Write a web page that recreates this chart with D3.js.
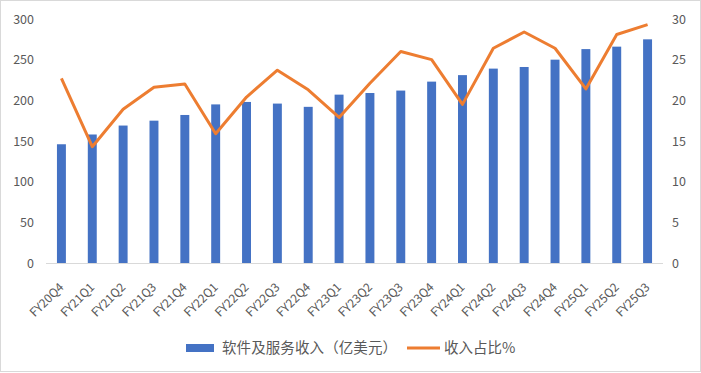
<!DOCTYPE html>
<html>
<head>
<meta charset="utf-8">
<script src="https://cdn.jsdelivr.net/npm/d3@7"></script>
<style>
  body { margin: 0; background: #fff; }
  svg text { font-family: "Noto Sans CJK SC", "Noto Sans", sans-serif; fill: #595959; }
</style>
</head>
<body>
<div id="chart"></div>
<script>
// quarters on the x axis
const quarters = ["FY20Q4", "FY21Q1", "FY21Q2", "FY21Q3", "FY21Q4", "FY22Q1", "FY22Q2", "FY22Q3",
       "FY22Q4", "FY23Q1", "FY23Q2", "FY23Q3", "FY23Q4", "FY24Q1", "FY24Q2", "FY24Q3",
       "FY24Q4", "FY25Q1", "FY25Q2", "FY25Q3"];

// 软件及服务收入（亿美元）
const revenue = [146, 158, 169, 175, 182, 195, 198, 196, 192, 207,
       209, 212, 223, 231, 239, 241, 250, 263, 266, 275];

// 收入占比%
const share = [22.7, 14.3, 18.9, 21.6, 22.0, 15.9, 20.4, 23.7, 21.3, 17.9,
       22.1, 26.0, 25.0, 19.5, 26.4, 28.4, 26.4, 21.4, 28.1, 29.3];

const leftTicks = [0, 50, 100, 150, 200, 250, 300];
const rightTicks = [0, 5, 10, 15, 20, 25, 30];

const width = 701, height = 373;
const plot = { left: 46, right: 663, top: 19, bottom: 263 };

const svg = d3.select("#chart").append("svg")
       .attr("width", width)
       .attr("height", height);

// chart border
svg.append("rect")
       .attr("x", 0.5).attr("y", 0.5)
       .attr("width", width - 1).attr("height", height - 2)
       .attr("fill", "#fff")
       .attr("stroke", "#d9d9d9");

const x = d3.scaleBand().domain(quarters).range([plot.left, plot.right]).paddingInner(0.71).paddingOuter(0.355);
const yL = d3.scaleLinear().domain([0, 300]).range([plot.bottom, plot.top]);
const yR = d3.scaleLinear().domain([0, 30]).range([plot.bottom, plot.top]);

// left axis labels
const leftAxis = svg.append("g")
       .attr("transform", `translate(${plot.left - 12},0)`)
       .call(d3.axisLeft(yL).tickValues(leftTicks).tickSize(0).tickPadding(0));
leftAxis.select(".domain").remove();
leftAxis.selectAll("text").style("font-size", "12.5px");

// right axis labels
const rightAxis = svg.append("g")
       .attr("transform", `translate(${plot.right + 9},0)`)
       .call(d3.axisRight(yR).tickValues(rightTicks).tickSize(0).tickPadding(0));
rightAxis.select(".domain").remove();
rightAxis.selectAll("text").style("font-size", "12.5px");

// bars
svg.selectAll(".bar")
       .data(revenue)
       .enter()
       .append("rect")
       .attr("class", "bar")
       .attr("x", (d, i) => x(quarters[i]))
       .attr("y", d => yL(d))
       .attr("width", x.bandwidth())
       .attr("height", d => yL(0) - yL(d))
       .attr("fill", "#4472c4");

// baseline
svg.append("line")
       .attr("x1", plot.left).attr("x2", plot.right)
       .attr("y1", yL(0) + 0.5).attr("y2", yL(0) + 0.5)
       .attr("stroke", "#d9d9d9");

// share line
const line = d3.line()
       .x((d, i) => x(quarters[i]) + x.bandwidth() / 2)
       .y(d => yR(d));

svg.append("path")
       .datum(share)
       .attr("d", line)
       .attr("fill", "none")
       .attr("stroke", "#ed7d31")
       .attr("stroke-width", 3)
       .attr("stroke-linejoin", "round");

// rotated x labels
svg.selectAll(".xlab")
       .data(quarters)
       .enter()
       .append("text")
       .attr("class", "xlab")
       .attr("transform", d => `translate(${x(d) + x.bandwidth() / 2},${plot.bottom + 22}) rotate(-45)`)
       .attr("text-anchor", "end")
       .attr("dy", "0.35em")
       .style("font-size", "12px")
       .text(d => d);

// legend
const legend = svg.append("g").attr("transform", "translate(0,348)");
legend.append("rect")
       .attr("x", 186).attr("y", -4)
       .attr("width", 28).attr("height", 8)
       .attr("fill", "#4472c4");
legend.append("text")
       .attr("x", 222).attr("dy", "0.35em")
       .attr("textLength", 175)
       .attr("lengthAdjust", "spacing")
       .style("font-size", "14.5px")
       .text("软件及服务收入（亿美元）");
legend.append("line")
       .attr("x1", 407).attr("x2", 440)
       .attr("stroke", "#ed7d31")
       .attr("stroke-width", 3);
legend.append("text")
       .attr("x", 444).attr("dy", "0.35em")
       .style("font-size", "14.5px")
       .text("收入占比%");
</script>
</body>
</html>
